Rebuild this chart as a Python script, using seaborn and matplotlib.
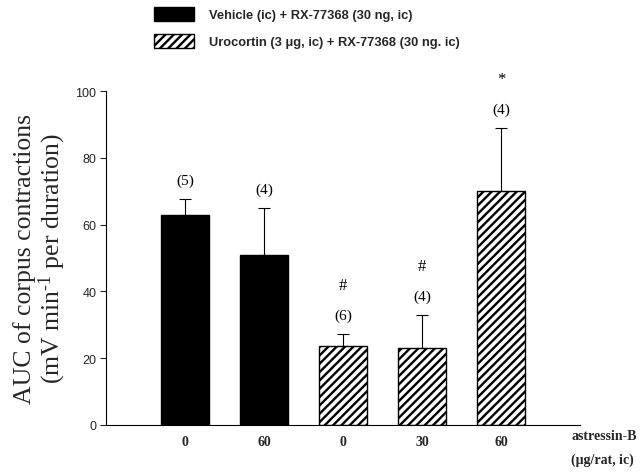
import numpy as np
import pandas as pd
import matplotlib
matplotlib.use("Agg")
import matplotlib.pyplot as plt
import seaborn as sns
from matplotlib.patches import Patch

groups = ["Vehicle (ic) + RX-77368 (30 ng, ic)"] * 2 + ["Urocortin (3 \u03bcg, ic) + RX-77368 (30 ng. ic)"] * 3
doses = ["0", "60", "0", "30", "60"]
means = [63.0, 51.0, 23.5, 23.0, 70.0]
sems = [4.7, 14.0, 3.8, 10.0, 19.0]
n_labels = ["(5)", "(4)", "(6)", "(4)", "(4)"]
marks = ["", "", "#", "#", "*"]

df = pd.DataFrame({"bar": [str(i) for i in range(5)], "group": groups, "AUC": means})

sns.set_theme(style="white")
plt.rcParams["hatch.linewidth"] = 1.7
plt.rcParams["mathtext.fontset"] = "custom"
plt.rcParams["mathtext.rm"] = "Liberation Serif"
plt.rcParams["mathtext.it"] = "Liberation Serif:italic"

fig = plt.figure(figsize=(6.4, 4.77), dpi=100)
ax = fig.add_axes([0.1656, 0.107, 0.7406, 0.700])

sns.barplot(data=df, x="bar", y="AUC", color="black", width=0.61, ax=ax,
            errorbar=None, edgecolor="black", linewidth=1)
for i, p in enumerate(ax.patches):
    if i >= 2:
        p.set_facecolor("white")
        p.set_hatch("////")

ax.errorbar(range(5), means, yerr=[np.zeros(5), sems], fmt="none",
            ecolor="black", elinewidth=0.8, capsize=4, capthick=0.8)

for i in range(5):
    top = means[i] + sems[i]
    ax.text(i, top + 3.5, n_labels[i], ha="center", va="bottom",
            family="Liberation Serif", fontsize=11, color="black")
    if marks[i]:
        ax.text(i, top + 14.5, marks[i], ha="center", va="center",
                family="Liberation Serif", fontsize=12, color="black")

ax.set_xlim(-1, 5)
ax.set_ylim(0, 100)
ax.set_yticks([0, 20, 40, 60, 80, 100])
ax.set_xticklabels(doses, family="Liberation Serif", fontweight="bold", fontsize=10)
ax.tick_params(axis="x", length=0, pad=7)
ax.tick_params(axis="y", direction="out", length=4, width=0.8, left=True, labelsize=9, pad=3)
for lab in ax.get_yticklabels():
    lab.set_family("Liberation Sans")
ax.set_xlabel("")
ax.set_ylabel("AUC of corpus contractions\n(mV min$^{\\text{-1}}$ per duration)",
              family="Liberation Serif", fontsize=18.5, linespacing=1.05, labelpad=5)
for s in ["top", "right"]:
    ax.spines[s].set_visible(False)
for s in ["left", "bottom"]:
    ax.spines[s].set_color("black")
    ax.spines[s].set_linewidth(0.8)

fig.text(571 / 640, 1 - 437 / 477, "astressin-B", family="Liberation Serif",
         fontweight="bold", fontsize=10, va="center", ha="left")
fig.text(571 / 640, 1 - 460 / 477, "(\u03bcg/rat, ic)", family="Liberation Serif",
         fontweight="bold", fontsize=10, va="center", ha="left")

handles = [Patch(facecolor="black", edgecolor="black"),
           Patch(facecolor="white", edgecolor="black", hatch="////")]
leg = fig.legend(handles, [groups[0], groups[2]], loc="upper left",
                 bbox_to_anchor=(142 / 640, 1.008), frameon=False,
                 handlelength=3.1, handleheight=1.3, labelspacing=1.0,
                 handletextpad=1.2, prop={"family": "Liberation Sans", "weight": "bold", "size": 9.3})

fig.savefig("out.png", dpi=100)
